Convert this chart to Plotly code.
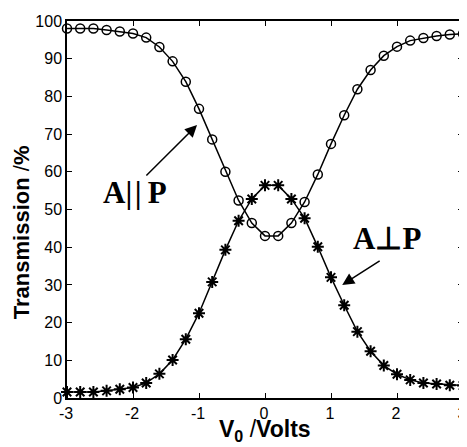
import plotly.graph_objects as go

voltage = [-3.0, -2.8, -2.6, -2.4, -2.2, -2.0, -1.8, -1.6, -1.4, -1.2, -1.0,
           -0.8, -0.6, -0.4, -0.2, 0.0, 0.2, 0.4, 0.6, 0.8, 1.0,
           1.2, 1.4, 1.6, 1.8, 2.0, 2.2, 2.4, 2.6, 2.8, 3.0]

parallel = [98.0, 98.0, 98.0, 97.6, 97.2, 96.7, 95.6, 93.1, 89.3, 83.9, 76.7,
            68.6, 60.0, 52.4, 46.4, 43.0, 43.0, 46.4, 52.0, 59.3, 67.4,
            75.0, 81.9, 87.0, 90.8, 93.2, 94.8, 95.5, 96.0, 96.4, 96.6]

perpendicular = [1.6, 1.6, 1.6, 1.9, 2.3, 2.8, 4.0, 6.4, 10.1, 15.6, 22.5,
                 30.8, 39.3, 47.0, 52.8, 56.4, 56.4, 52.8, 47.7, 40.1, 32.0,
                 24.6, 17.6, 12.4, 8.6, 6.3, 4.8, 4.0, 3.7, 3.4, 3.3]

x_ticks = [-3, -2, -1, 0, 1, 2, 3]
y_ticks = [0, 10, 20, 30, 40, 50, 60, 70, 80, 90, 100]

fig = go.Figure()
fig.add_trace(go.Scatter(
    x=voltage, y=parallel, mode="lines+markers",
    line=dict(color="black", width=1.5),
    marker=dict(symbol="circle-open", size=9, color="black", line=dict(width=1.5)),
    showlegend=False, cliponaxis=False))
fig.add_trace(go.Scatter(
    x=voltage, y=perpendicular, mode="lines+markers",
    line=dict(color="black", width=1.5),
    marker=dict(symbol="asterisk-open", size=10, color="black", line=dict(width=2, color="black")),
    showlegend=False, cliponaxis=False))

serif = dict(family="Liberation Serif", size=31, color="black")
fig.add_annotation(x=-1.97, y=54.4, xref="x", yref="y",
                   text="<b>A|\u200a|\u2009P</b>", showarrow=False, font=serif)
fig.add_annotation(x=1.85, y=42.4, xref="x", yref="y", text="<b>A⊥P</b>",
                   showarrow=False, font=serif)
fig.add_annotation(x=-1.03, y=72.4, ax=-1.82, ay=58.6, xref="x", yref="y",
                   axref="x", ayref="y", text="", showarrow=True,
                   arrowhead=2, arrowsize=1.6, arrowwidth=1.5, arrowcolor="black")
fig.add_annotation(x=1.17, y=30.0, ax=1.76, ay=36.6, xref="x", yref="y",
                   axref="x", ayref="y", text="", showarrow=True,
                   arrowhead=2, arrowsize=1.6, arrowwidth=1.5, arrowcolor="black")

# axis titles
fig.add_annotation(x=-0.116, y=0.44, xref="paper", yref="paper",
                   xanchor="center", yanchor="middle",
                   text="<b>Transmission</b> /<b>%</b>", textangle=-90, showarrow=False,
                   font=dict(family="Liberation Sans", size=22, color="black"))
fig.add_annotation(x=0.5, y=-0.0875, xref="paper", yref="paper",
                   xanchor="center", yanchor="middle",
                   text="<b>V<sub>0</sub></b> /<b>Volts</b>", showarrow=False,
                   font=dict(family="Liberation Sans", size=23, color="black"))

axis_common = dict(showline=True, linecolor="black", linewidth=1.5, mirror="allticks",
                   ticks="inside", ticklen=5, tickwidth=1.2, tickcolor="black",
                   showgrid=False, zeroline=False, automargin=False,
                   ticklabeloverflow="allow",
                   tickfont=dict(family="Liberation Sans", size=16, color="black"))

fig.update_xaxes(range=[-3, 3], tickvals=x_ticks, ticktext=[str(v) for v in x_ticks],
                 ticklabelshift=-1, **axis_common)
fig.update_yaxes(range=[0, 100], tickvals=y_ticks, ticktext=[str(v) for v in y_ticks],
                 **axis_common)

# page body has an 8px default margin, so the figure is sized to fit the window
fig.update_layout(width=459, height=439, margin=dict(l=59, r=4, t=13, b=49),
                  plot_bgcolor="white", paper_bgcolor="white")

fig.write_html("out.html")
